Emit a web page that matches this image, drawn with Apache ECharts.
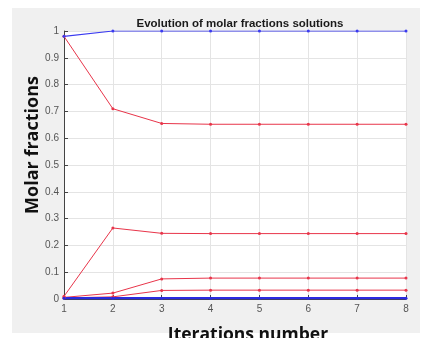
<!DOCTYPE html>
<html><head><meta charset="utf-8">
<script src="https://cdn.jsdelivr.net/npm/echarts@6/dist/echarts.min.js"></script>
<style>html,body{margin:0;padding:0;background:#fff}#c{width:430px;height:338px}</style>
</head><body><div id="c"></div>
<script>
const iterations = [1, 2, 3, 4, 5, 6, 7, 8];
const blueTop = [0.98, 1, 1, 1, 1, 1, 1, 1];
const red1 = [0.98, 0.71, 0.655, 0.652, 0.652, 0.652, 0.652, 0.652];
const red2 = [0.01, 0.265, 0.245, 0.244, 0.244, 0.244, 0.244, 0.244];
const red3 = [0.006, 0.022, 0.075, 0.078, 0.078, 0.078, 0.078, 0.078];
const red4 = [0.004, 0.008, 0.032, 0.033, 0.033, 0.033, 0.033, 0.033];
const blueBottom = [0.003, 0.003, 0.003, 0.003, 0.003, 0.003, 0.003, 0.003];
const yTicks = [0, 0.1, 0.2, 0.3, 0.4, 0.5, 0.6, 0.7, 0.8, 0.9, 1];

function pairs(arr){ return iterations.map((x,i)=>[x,arr[i]]); }
function mk(arr, color, width){
  return {type:'line', data:pairs(arr), symbol:'circle', symbolSize:3, showSymbol:true,
    lineStyle:{color:color, width:width}, itemStyle:{color:color}, animation:false, z:3};
}
const chart = echarts.init(document.getElementById('c'));
chart.setOption({
  animation:false,
  backgroundColor:'#ffffff',
  graphic:[{type:'rect', shape:{x:12,y:8,width:408,height:325}, style:{fill:'#f0f0f0'}, z:-10}],
  title:{text:'Evolution of molar fractions solutions', left:235, top:13, textAlign:'center',
    textStyle:{fontFamily:'Liberation Sans', fontSize:11.5, fontWeight:'bold', color:'#1a1a1a'}},
  grid:{left:64, right:24, top:31, bottom:39, show:true, backgroundColor:'#ffffff', borderWidth:0,
    containLabel:false, outerBoundsMode:'none'},
  xAxis:{type:'value', min:1, max:8, interval:1,
    name:'Iterations number', nameLocation:'middle', nameGap:27,
    nameTextStyle:{fontFamily:'Open Sans', fontSize:17.5, fontWeight:'bold', color:'#111', padding:[0,0,0,26]},
    axisLine:{show:true, lineStyle:{color:'#444', width:1}},
    axisTick:{show:true, inside:true, length:4, lineStyle:{color:'#444'}},
    axisLabel:{fontFamily:'Liberation Sans', fontSize:10, color:'#555', margin:5},
    splitLine:{show:true, lineStyle:{color:'#e4e4e4', width:1}}},
  yAxis:{type:'value', min:0, max:1, interval:0.1,
    name:'Molar fractions', nameLocation:'middle', nameGap:22, nameRotate:90, nameMoveOverlap:false,
    nameTextStyle:{fontFamily:'Open Sans', fontSize:18, fontWeight:'bold', color:'#111', padding:[0,0,0,40]},
    axisLine:{show:true, lineStyle:{color:'#444', width:1}},
    axisTick:{show:true, inside:true, length:4, lineStyle:{color:'#444'}},
    axisLabel:{fontFamily:'Liberation Sans', fontSize:10, color:'#555', margin:5,
      formatter:function(v){ const t = yTicks.find(k=>Math.abs(k-v)<1e-6); return t===undefined?'':String(t); }},
    splitLine:{show:true, lineStyle:{color:'#e4e4e4', width:1}}},
  series:[
    mk(red1,'#e8354a',1), mk(red2,'#e8354a',1), mk(red3,'#e8354a',1), mk(red4,'#e8354a',1),
    mk(blueTop,'#3a3af0',1.2), mk(blueBottom,'#2a2ae0',2.2)
  ]
});
</script></body></html>
